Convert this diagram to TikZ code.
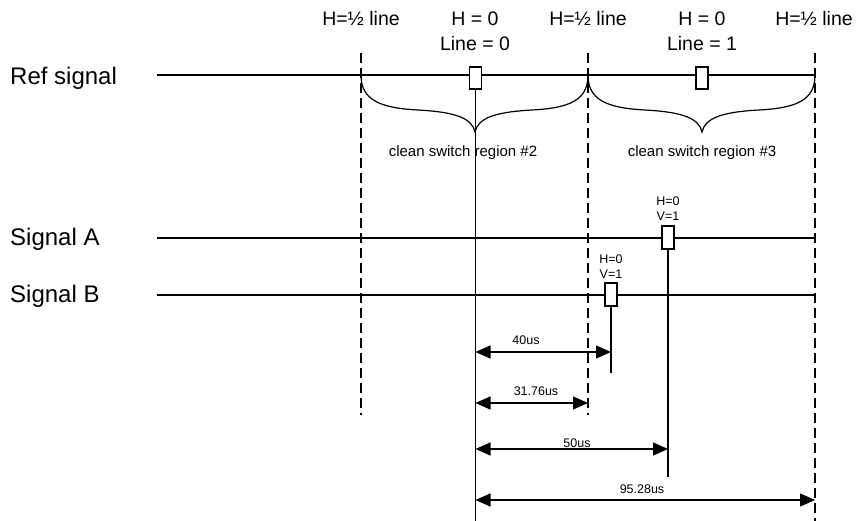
\documentclass[tikz,border=0pt]{standalone}
\usepackage{fontspec}
\setmainfont{Liberation Sans}
\usetikzlibrary{arrows.meta}
\tikzset{
  sig/.style={line width=1.2pt},
  dline/.style={line width=1.2pt, dash pattern=on 10pt off 5pt},
  pulse/.style={draw, fill=white, line width=1.2pt, minimum width=12pt, minimum height=22pt, inner sep=0pt},
  dim/.style={line width=1.2pt, {Triangle[length=15pt,width=13pt]}-{Triangle[length=15pt,width=13pt]}},
  lbl/.style={inner sep=0pt, anchor=base west, font=\fontsize{24}{26}\selectfont},
  toplbl/.style={inner sep=0pt, anchor=base, font=\fontsize{19.5}{21}\selectfont},
  reglbl/.style={inner sep=0pt, anchor=base, font=\fontsize{15}{16}\selectfont},
  smlbl/.style={inner sep=0pt, anchor=base, font=\fontsize{12.5}{14}\selectfont},
}
\begin{document}
\begin{tikzpicture}[x=1pt,y=-1pt]
\useasboundingbox (0,0) rectangle (858,521);
% left labels
\node[lbl] (lref) at (10,85) {Ref signal};
\node[lbl] (la) at (10,245) {Signal A};
\node[lbl] (lb) at (10,302) {Signal B};
% top labels
\node[toplbl] (t1) at (361,26) {H=½ line};
\node[toplbl] (t2) at (475,26) {H = 0};
\node[toplbl] (t3) at (475,51) {Line = 0};
\node[toplbl] (t4) at (588,26) {H=½ line};
\node[toplbl] (t5) at (702,26) {H = 0};
\node[toplbl] (t6) at (702,51) {Line = 1};
\node[toplbl] (t7) at (814,26) {H=½ line};
% dashed lines
\coordinate (d1t) at (361,53); \coordinate (d1b) at (361,415);
\coordinate (d2t) at (588,53); \coordinate (d2b) at (588,415);
\coordinate (d3t) at (815,53); \coordinate (d3b) at (815,521);
\draw[dline] (d1t) -- (d1b);
\draw[dline] (d2t) -- (d2b);
\draw[dline] (d3t) -- (d3b);
% signal lines
\coordinate (refL) at (157,75); \coordinate (refR) at (815,75);
\coordinate (aL) at (157,238); \coordinate (aR) at (815,238);
\coordinate (bL) at (157,295); \coordinate (bR) at (815,295);
\draw[sig] (refL) -- (refR);
\draw[sig] (aL) -- (aR);
\draw[sig] (bL) -- (bR);
% braces
\coordinate (br1a) at (361,75); \coordinate (br1t) at (475,132); \coordinate (br1b) at (588,75);
\coordinate (br2t) at (702,132); \coordinate (br2b) at (815,75);
\draw[line width=1.2pt] (br1a) .. controls (361,100) and (380,108) .. (418,110)
  .. controls (455,112) and (472,118) .. (br1t)
  .. controls (478,118) and (495,112) .. (532,110)
  .. controls (570,108) and (588,100) .. (br1b);
\draw[line width=1.2pt] (br1b) .. controls (588,100) and (607,108) .. (645,110)
  .. controls (682,112) and (699,118) .. (br2t)
  .. controls (705,118) and (722,112) .. (759,110)
  .. controls (797,108) and (815,100) .. (br2b);
\node[reglbl] (reg2) at (463,157) {clean switch region \#2};
\node[reglbl] (reg3) at (702,157) {clean switch region \#3};
% ref pulses
\coordinate (v0b) at (475.5,521);
\draw[sig] (475.5,78) -- (v0b);
\node[pulse] (r0) at (475.5,78) {};
\node[pulse] (r1) at (702,78) {};
% signal A pulse
\coordinate (vab) at (668,477);
\draw[sig] (668,238) -- (vab);
\node[pulse, minimum height=23pt] (pa) at (668,237.5) {};
\node[smlbl] (pah) at (668,206) {H=0};
\node[smlbl] (pav) at (668,221) {V=1};
% signal B pulse
\coordinate (vbb) at (611,373);
\draw[sig] (611,295) -- (vbb);
\node[pulse, minimum height=23pt] (pb) at (611,294.5) {};
\node[smlbl] (pbh) at (611,263) {H=0};
\node[smlbl] (pbv) at (611,278) {V=1};
% dimensions
\coordinate (m1a) at (475.5,352); \coordinate (m1b) at (611,352);
\coordinate (m2a) at (475.5,403); \coordinate (m2b) at (588,403);
\coordinate (m3a) at (475.5,449); \coordinate (m3b) at (668,449);
\coordinate (m4a) at (475.5,500); \coordinate (m4b) at (815,500);
\draw[dim] (m1a) -- (m1b);
\draw[dim] (m2a) -- (m2b);
\draw[dim] (m3a) -- (m3b);
\draw[dim] (m4a) -- (m4b);
\node[smlbl] (n1) at (526,344) {40us};
\node[smlbl] (n2) at (536,395) {31.76us};
\node[smlbl] (n3) at (577,447) {50us};
\node[smlbl] (n4) at (642,493) {95.28us};
\end{tikzpicture}
\end{document}
